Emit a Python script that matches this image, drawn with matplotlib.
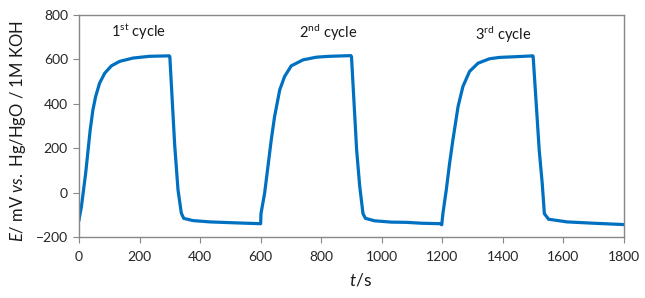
import numpy as np
import matplotlib.pyplot as plt

plt.rcParams['font.family'] = ['Lato', 'DejaVu Sans']
plt.rcParams['mathtext.fontset'] = 'custom'
plt.rcParams['mathtext.rm'] = 'Lato'
plt.rcParams['mathtext.it'] = 'Lato:italic'

# readings (time in s, potential in mV)
time_s = [0, 8, 15, 22, 30, 37, 46, 55, 68, 85, 107, 134, 178, 233, 298,
          300, 316, 327, 338, 346, 376, 432, 531, 598,
          600, 601, 613, 624, 635, 646, 663, 679, 701, 740, 784, 828, 898,
          900, 917, 927, 938, 946, 976, 1032, 1082, 1131, 1192, 1198,
          1202, 1213, 1224, 1235, 1252, 1268, 1290, 1318, 1356, 1389, 1440, 1499,
          1500, 1520, 1530, 1537, 1551, 1612, 1700, 1800]
potential_mV = [-123, -63, 12, 87, 192, 283, 373, 433, 493, 538, 571, 591, 606, 614, 616,
                612, 215, 12, -93, -116, -126, -132, -137, -140,
                -140, -95, -3, 117, 238, 343, 463, 523, 571, 598, 610, 614, 617,
                612, 191, 30, -95, -116, -127, -133, -134, -138, -140, -145,
                -93, 12, 132, 238, 388, 478, 546, 583, 603, 609, 612, 616,
                612, 191, 40, -95, -120, -132, -138, -144]

cycle_labels = [r'1$^{\mathrm{st}}$ cycle', r'2$^{\mathrm{nd}}$ cycle', r'3$^{\mathrm{rd}}$ cycle']
label_t = [107, 726, 1307]
label_E = [725, 720, 712]

x_ticks = np.arange(0, 1801, 200)
y_ticks = np.arange(-200, 801, 200)

fig = plt.figure(figsize=(6.45, 2.98), dpi=100)
ax = fig.add_axes([79 / 645, 1 - 237 / 298, 545 / 645, 222 / 298])

ax.plot(time_s, potential_mV, color='#0070C0', lw=2.3, solid_joinstyle='round')

for lab, tx, ey in zip(cycle_labels, label_t, label_E):
    ax.text(tx, ey, lab, fontsize=10.5, color='#1a1a1a', ha='left', va='center')

ax.set_xlim(0, 1800)
ax.set_ylim(-200, 800)
ax.set_xticks(x_ticks)
ax.set_yticks(y_ticks)
for s in ax.spines.values():
    s.set_color('#888888')
    s.set_linewidth(1.0)
ax.tick_params(direction='out', length=4, width=0.8, color='#888888',
               labelsize=10, labelcolor='#262626', pad=4)
ax.tick_params(axis='x', pad=6)

ax.set_xlabel(r'$\mathit{t}$/s', fontsize=12.5, color='#1a1a1a')
ax.xaxis.set_label_coords(0.516, -0.155)
ax.set_ylabel(r'$\mathit{E}$/ mV $\mathit{vs.}$ Hg/HgO / 1M KOH', fontsize=12,
              color='#1a1a1a')
ax.yaxis.set_label_coords(-0.093, 0.477)

fig.savefig('out.png', dpi=100)
